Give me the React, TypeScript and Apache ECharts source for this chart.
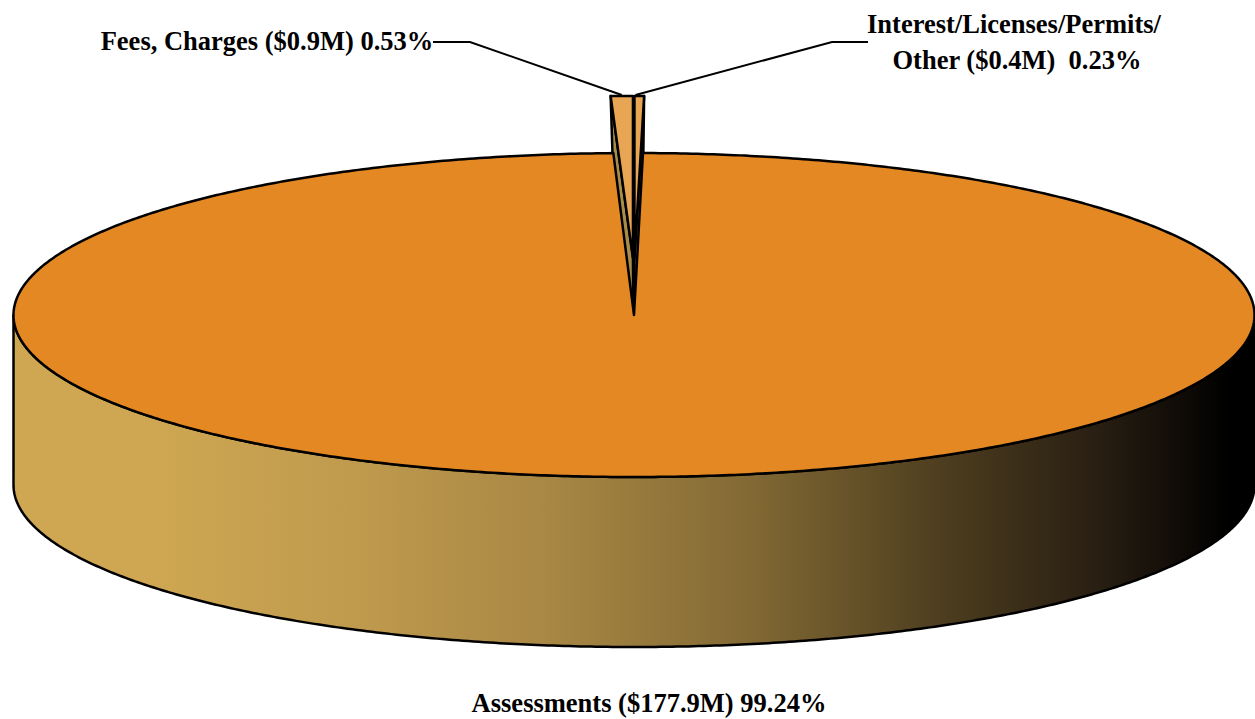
import React, { useEffect, useRef } from "react";
import * as echarts from "echarts";

// Revenue sources, in the order they are stacked clockwise from the top of the pie.
const categories = ["Fees, Charges", "Interest/Licenses/Permits/Other", "Assessments"];
const amountsInMillions = ["0.9", "0.4", "177.9"];
const sharePercents = [0.53, 0.23, 99.24];

const FONT = 'bold 26.5px "Liberation Serif", "Times New Roman", serif';
const INK = "#000000";
const TOP_COLORS = ["#E8A553", "#E8A553", "#E48823"];
const CUT_FACE_COLOR = "#A88C48";
const WALL_STOPS = [
  { offset: 0, color: "#CFA752" },
  { offset: 0.11, color: "#CFA752" },
  { offset: 0.27, color: "#C09B4E" },
  { offset: 0.433, color: "#A88744" },
  { offset: 0.594, color: "#826934" },
  { offset: 0.755, color: "#4B3C1E" },
  { offset: 0.876, color: "#281E12" },
  { offset: 0.98, color: "#000000" },
  { offset: 1, color: "#000000" },
];

const CX = 634;
const CY = 315;
const RX = 620.5;
const RY = 162;
const DEPTH = 170;
const EXPLODE = 57 / RY; // small slices are pulled back by this fraction of the radius
const EXPLODE_X = 0.1;
const SMALL_X_SCALE = 1.08;
const WALL_TAPER = 0.76;
const LINE_WIDTH = 2.5;

type Pt = [number, number];

const rad = (deg: number) => (deg * Math.PI) / 180;

// Start and end angle of each slice, clockwise in degrees with 0 at the top of the pie.
const total = sharePercents.reduce((a, b) => a + b, 0);
const sweeps = sharePercents.map((v) => (v / total) * 360);
const arcs: [number, number][] = [
  [-sweeps[0], 0],
  [0, sweeps[1]],
  [sweeps[1], 360 - sweeps[0]],
];

const rim = (a: number, cy = CY, sx = 1, cx = CX): Pt => [
  cx + RX * sx * Math.sin(rad(a)),
  cy - RY * Math.cos(rad(a)),
];

const arcPoints = (from: number, to: number, cy = CY, sx = 1, cx = CX): Pt[] => {
  const steps = Math.max(2, Math.ceil(Math.abs(to - from) * 2));
  const out: Pt[] = [];
  for (let i = 0; i <= steps; i++) out.push(rim(from + ((to - from) * i) / steps, cy, sx, cx));
  return out;
};

const outline = () => ({ stroke: INK, lineWidth: LINE_WIDTH, lineJoin: "round" as const });

function label(text: string, x: number, y: number) {
  return {
    type: "text",
    style: { text, x, y, font: FONT, fill: INK, align: "center", verticalAlign: "middle" },
  };
}

function leader(points: Pt[]) {
  return { type: "polyline", shape: { points }, style: { stroke: INK, lineWidth: 2, fill: null } };
}

// Pulled-out slice: its cut faces first, then its top face.
function smallSlice(index: number) {
  const [a0, a1] = arcs[index];
  const mid = (a0 + a1) / 2;
  const cx = CX + EXPLODE_X * RX * Math.sin(rad(mid));
  const cy = CY - EXPLODE * RY * Math.cos(rad(mid));
  const outerAngle = index === 0 ? a0 : a1;
  const corner = rim(outerAngle, cy, SMALL_X_SCALE, cx);
  const cornerLow: Pt = [cx + (corner[0] - cx) * WALL_TAPER, corner[1] + DEPTH];
  const top = [[cx, cy] as Pt, ...arcPoints(a0, a1, cy, SMALL_X_SCALE, cx)];
  return [
    {
      type: "polygon",
      shape: { points: [corner, [cx, cy], [CX, cy + DEPTH], cornerLow] },
      style: { fill: CUT_FACE_COLOR, ...outline() },
    },
    {
      type: "polygon",
      shape: { points: top },
      style: { fill: TOP_COLORS[index], ...outline() },
    },
  ];
}

// Main slice: the front wall from the left extreme to the right, then the notched top face.
function mainSlice(index: number) {
  const [a0, a1] = arcs[index];
  const frontTop = arcPoints(270, 90);
  const frontBottom = arcPoints(90, 270, CY + DEPTH);
  const top = [[CX, CY] as Pt, ...arcPoints(a0, a1)];
  return [
    {
      type: "polygon",
      shape: { points: [...frontTop, ...frontBottom] },
      style: {
        fill: new echarts.graphic.LinearGradient(0, 0, 1, 0, WALL_STOPS),
        ...outline(),
      },
    },
    {
      type: "polygon",
      shape: { points: top },
      style: { fill: TOP_COLORS[index], ...outline() },
    },
  ];
}

function renderSlice(params: any) {
  const i = params.dataIndex;
  if (i === 0) {
    const [a0, a1] = arcs[0];
    const mid = (a0 + a1) / 2;
    const cx = CX + EXPLODE_X * RX * Math.sin(rad(mid));
    const cy = CY - EXPLODE * RY;
    const end = rim(mid, cy, SMALL_X_SCALE, cx);
    return {
      type: "group",
      children: [
        ...smallSlice(0),
        leader([[433, 42], [470, 42], [end[0], end[1] - 1]]),
        label(`${categories[0]} ($${amountsInMillions[0]}M) ${sharePercents[0].toFixed(2)}%`, 267, 41),
      ],
    };
  }
  if (i === 1) {
    const [a0] = arcs[1];
    const cx = CX + EXPLODE_X * RX * Math.sin(rad(sweeps[1] / 2));
    const cy = CY - EXPLODE * RY;
    const end = rim(a0, cy, SMALL_X_SCALE, cx);
    const [first, second] = categories[1].split("Permits/");
    return {
      type: "group",
      children: [
        ...smallSlice(1),
        leader([[868, 42], [832, 42], [end[0] + 1, end[1] - 1]]),
        label(`${first}Permits/`, 1014, 24),
        label(`${second} ($${amountsInMillions[1]}M)\u00A0 ${sharePercents[1].toFixed(2)}%`, 1017, 60),
      ],
    };
  }
  return {
    type: "group",
    children: [
      ...mainSlice(2),
      label(`${categories[2]} ($${amountsInMillions[2]}M) ${sharePercents[2].toFixed(2)}%`, 649, 703),
    ],
  };
}

export default function App() {
  const ref = useRef<HTMLDivElement>(null);

  useEffect(() => {
    document.body.style.margin = "0";
    const chart = echarts.init(ref.current!, undefined, { renderer: "svg" });
    chart.setOption({
      animation: false,
      backgroundColor: "#ffffff",
      series: [
        {
          type: "custom",
          coordinateSystem: "none",
          silent: true,
          renderItem: renderSlice,
          data: sharePercents.map((v) => [v]),
        },
      ],
    });
    return () => chart.dispose();
  }, []);

  return <div ref={ref} style={{ width: 1255, height: 719 }} />;
}
